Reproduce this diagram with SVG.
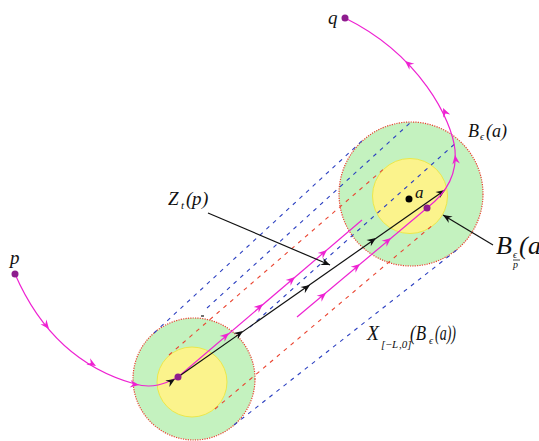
<svg xmlns="http://www.w3.org/2000/svg" xmlns:xlink="http://www.w3.org/1999/xlink" width="539" height="441" viewBox="0 0 539 441">
<style>
.green{fill:#c4f2bf;stroke:#e8402f;stroke-width:1.2;stroke-dasharray:1.2 1.2}
.yellow{fill:#fbf38c;stroke:#ece84a;stroke-width:1}
.bd{fill:none;stroke:#2b3fc0;stroke-width:1.1;stroke-dasharray:4 5}
.rd{fill:none;stroke:#ea4430;stroke-width:1.1;stroke-dasharray:4 5}
.mg{fill:none;stroke:#ee22d2;stroke-width:1.2}
.bk{fill:none;stroke:#111;stroke-width:1.2}
.mgf{fill:#ee22d2}
.bkf{fill:#111}
.dot{fill:#8e1c8e}
text{font-family:"Liberation Serif","DejaVu Serif",serif;font-style:italic;fill:#111}
</style>
<defs>
<path id="ah" d="M0,0 L-9,-3.8 L-6,0 L-9,3.8 Z"/>
</defs>
<g id="node-lower">
<circle class="green" cx="194" cy="379" r="61"/>
<circle class="yellow" cx="192" cy="382" r="35"/>
</g>
<g id="node-upper">
<circle class="green" cx="411" cy="194" r="72"/>
<circle class="yellow" cx="410" cy="196" r="37.5"/>
</g>
<g id="connectors">
<line class="bd" x1="154" y1="333" x2="364" y2="139"/>
<line class="bd" x1="207" y1="308" x2="410" y2="123"/>
<line class="rd" x1="169" y1="355" x2="386" y2="167"/>
<line class="bd" x1="250" y1="327" x2="458" y2="141"/>
<line class="rd" x1="215" y1="409" x2="434" y2="224"/>
<line class="bd" x1="234" y1="425" x2="458" y2="249"/>
<line class="bk" x1="201" y1="316" x2="204" y2="316"/>
<path class="mg" d="M15,274 C35,320 70,366 135,384 C152,389 165,384 178,377"/>
<use xlink:href="#ah" class="mgf" transform="translate(49,329) rotate(52)"/>
<use xlink:href="#ah" class="mgf" transform="translate(96,366) rotate(30)"/>
<use xlink:href="#ah" class="mgf" transform="translate(139,385) rotate(8)"/>
<use xlink:href="#ah" class="bkf" transform="translate(175,379) rotate(-32)"/>
<line class="mg" x1="178" y1="377" x2="362" y2="220"/>
<use xlink:href="#ah" class="mgf" transform="translate(229,333) rotate(-40.5)"/>
<use xlink:href="#ah" class="mgf" transform="translate(263,304) rotate(-40.5)"/>
<use xlink:href="#ah" class="mgf" transform="translate(295,277) rotate(-40.5)"/>
<use xlink:href="#ah" class="mgf" transform="translate(327,250) rotate(-40.5)"/>
<line class="bk" x1="178" y1="377" x2="445" y2="190"/>
<use xlink:href="#ah" class="bkf" transform="translate(243,331) rotate(-35)"/>
<use xlink:href="#ah" class="bkf" transform="translate(310,285) rotate(-35)"/>
<use xlink:href="#ah" class="bkf" transform="translate(376,238) rotate(-35)"/>
<use xlink:href="#ah" class="bkf" transform="translate(445,190) rotate(-35)"/>
<line class="mg" x1="297" y1="317" x2="427" y2="208"/>
<use xlink:href="#ah" class="mgf" transform="translate(326,293) rotate(-40)"/>
<use xlink:href="#ah" class="mgf" transform="translate(360,264) rotate(-40)"/>
<use xlink:href="#ah" class="mgf" transform="translate(391,238) rotate(-40)"/>
<path class="mg" d="M427,208 C440,198 458,180 455,150 C452,120 420,55 345,18"/>
<use xlink:href="#ah" class="mgf" transform="translate(455,155) rotate(-97)"/>
<use xlink:href="#ah" class="mgf" transform="translate(443,108) rotate(-115)"/>
<use xlink:href="#ah" class="mgf" transform="translate(405,61) rotate(-140)"/>
<line class="bk" x1="208" y1="213" x2="330" y2="265"/>
<use xlink:href="#ah" class="bkf" transform="translate(330,265) rotate(23)"/>
<line class="bk" x1="493" y1="245" x2="443" y2="215"/>
<use xlink:href="#ah" class="bkf" transform="translate(443,215) rotate(211)"/>
</g>
<g id="node-p">
<circle class="dot" cx="15" cy="274" r="3.5"/>
<text x="10" y="264" font-size="19">p</text>
</g>
<g id="node-q">
<circle class="dot" cx="345" cy="18" r="3.5"/>
<text x="328" y="24" font-size="19">q</text>
</g>
<g id="node-x">
<circle class="dot" cx="178" cy="377" r="3.5"/>
</g>
<g id="node-y">
<circle class="dot" cx="427" cy="208" r="3.5"/>
</g>
<g id="node-a">
<circle fill="#000" cx="409" cy="199" r="3.5"/>
<text x="415" y="198" font-size="17">a</text>
</g>
<g id="label-beps">
<text x="468" y="137" font-size="18">B</text>
<text x="480" y="140" font-size="10">ϵ</text>
<text x="486" y="137" font-size="18" font-style="normal">(</text><text x="492" y="137" font-size="18">a</text><text x="501" y="137" font-size="18" font-style="normal">)</text>
</g>
<g id="label-zt">
<text x="168" y="205" font-size="19">Z</text>
<text x="181" y="209" font-size="11">t</text>
<text x="186" y="205" font-size="19" font-style="normal">(</text><text x="192" y="205" font-size="19">p</text><text x="202" y="205" font-size="19" font-style="normal">)</text>
</g>
<g id="label-bepsp">
<text x="496" y="254" font-size="26">B</text>
<text x="513" y="258" font-size="10">ϵ</text>
<line x1="513" y1="260" x2="520" y2="260" stroke="#111" stroke-width="0.8"/>
<text x="513" y="268" font-size="10">p</text>
<text x="519" y="254" font-size="26" font-style="normal">(</text><text x="528" y="254" font-size="26">a</text>
</g>
<g id="label-x">
<text x="367" y="340" font-size="21" textLength="12" lengthAdjust="spacingAndGlyphs">X</text>
<text x="381" y="348" font-size="11" font-style="normal">[−</text>
<text x="392" y="348" font-size="11">L</text>
<text x="399" y="348" font-size="11" font-style="normal">,0]</text>
<text x="410" y="340" font-size="21" textLength="16" lengthAdjust="spacingAndGlyphs">(B</text>
<text x="429" y="344" font-size="10">ϵ</text>
<text x="435" y="340" font-size="21" textLength="21" lengthAdjust="spacingAndGlyphs">(a))</text>
</g>
</svg>
